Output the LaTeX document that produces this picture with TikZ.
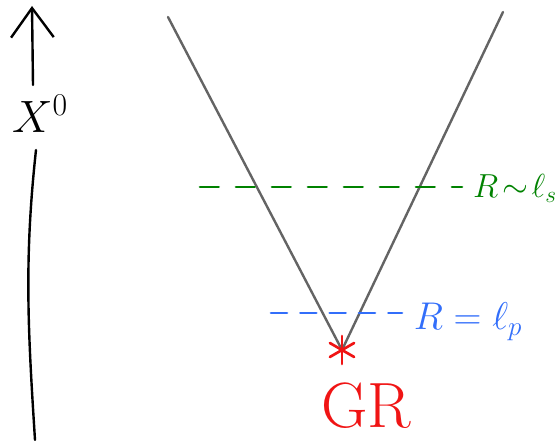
\documentclass[tikz,border=0pt]{standalone}
\usepackage{fix-cm}
\usepackage{amsmath,amssymb}
\usepackage{tikz}
\usetikzlibrary{positioning,arrows.meta,calc}
\usepackage{xcolor}
\definecolor{conegray}{RGB}{100,100,100}
\definecolor{stringgreen}{RGB}{0,130,0}
\definecolor{planckblue}{RGB}{50,110,250}
\definecolor{grred}{RGB}{240,20,20}

\begin{document}
\begin{tikzpicture}[x=0.75pt,y=-0.75pt,line cap=round,
  cone/.style={conegray,line width=1.8pt},
  scaleline/.style={line width=2pt,dash pattern=on 14pt off 13pt},
  lbl/.style={inner sep=0pt,font=\fontsize{#1}{#1}\selectfont}]
\useasboundingbox (0,0) rectangle (558,441);
% Time axis
\coordinate (tbot) at (35,440);
\coordinate (tmid) at (36,150);
\coordinate (tlow) at (33,85);
\coordinate (ttop) at (32,6);
\draw[line width=1.8pt] (tbot) .. controls (28,330) and (24,260) .. (tmid);
\draw[line width=1.8pt,-{Straight Barb[length=22pt,width=32pt,line width=1.8pt]}] (tlow) -- (ttop);
\node[lbl=34pt] (time) at (40,114) {$X^{0}$};
% Light cone
\coordinate (apex) at (342,350);
\coordinate (cl) at (168,17);
\coordinate (cr) at (503,12);
\draw[cone] (cl) -- (apex) -- (cr);
% String scale
\coordinate (g1) at (200,187);
\coordinate (g2) at (462,187);
\draw[stringgreen,scaleline] (g1) -- (g2);
\node[lbl=25pt,stringgreen] (rs) at (515,188) {$R\!\sim\!\ell_s$};
% Planck scale
\coordinate (b1) at (271,313);
\coordinate (b2) at (402,313);
\draw[planckblue,line width=2pt,dash pattern=on 12pt off 10pt] (b1) -- (b2);
\node[lbl=29pt,planckblue] (rp) at (468,322) {$R=\ell_p$};
% Singularity
\coordinate (sing) at (342,350);
\foreach \a in {90,30,-30} {
  \draw[grred,line width=2pt] ($(sing)+(\a:14)$) -- ($(sing)+(\a+180:14)$);
}
\node[grred,lbl=48pt] (gr) at (366,406) {GR};
\end{tikzpicture}
\end{document}
